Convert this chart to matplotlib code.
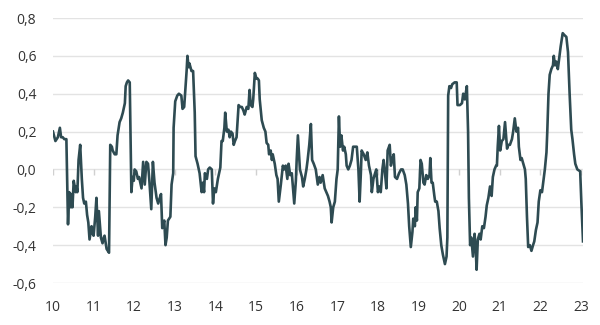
import matplotlib
matplotlib.use("Agg")
import matplotlib.pyplot as plt

plt.rcParams['font.family'] = ['Open Sans', 'DejaVu Sans']

# Observation dates (decimal years) and values of the series
t = [10.00, 10.06, 10.09, 10.12, 10.17, 10.20, 10.24, 10.28, 10.33, 10.37,
     10.40, 10.44, 10.46, 10.48, 10.51, 10.56, 10.58, 10.60, 10.63, 10.67,
     10.71, 10.74, 10.77, 10.81, 10.84, 10.87, 10.90, 10.93, 10.95, 10.98,
     11.00, 11.04, 11.07, 11.09, 11.11, 11.13, 11.16, 11.18, 11.22, 11.25,
     11.27, 11.32, 11.35, 11.38, 11.41, 11.45, 11.47, 11.52, 11.56, 11.59,
     11.64, 11.68, 11.72, 11.74, 11.77, 11.79, 11.82, 11.85, 11.89, 11.93,
     11.96, 11.99, 12.01, 12.05, 12.09, 12.12, 12.18, 12.22, 12.26, 12.30,
     12.34, 12.37, 12.42, 12.46, 12.50, 12.55, 12.59, 12.63, 12.66, 12.69,
     12.74, 12.77, 12.80, 12.83, 12.86, 12.89, 12.92, 12.96, 12.97, 13.01,
     13.06, 13.10, 13.16, 13.19, 13.23, 13.29, 13.31, 13.34, 13.36, 13.41,
     13.45, 13.49, 13.51, 13.56, 13.61, 13.66, 13.69, 13.72, 13.74, 13.79,
     13.82, 13.86, 13.91, 13.94, 13.97, 14.01, 14.06, 14.09, 14.12, 14.15,
     14.18, 14.22, 14.24, 14.28, 14.32, 14.35, 14.38, 14.42, 14.45, 14.48,
     14.52, 14.57, 14.61, 14.65, 14.69, 14.72, 14.77, 14.81, 14.84, 14.87,
     14.91, 14.93, 14.97, 15.01, 15.04, 15.07, 15.09, 15.14, 15.19, 15.23,
     15.26, 15.30, 15.32, 15.36, 15.39, 15.41, 15.46, 15.50, 15.53, 15.56,
     15.61, 15.66, 15.69, 15.73, 15.77, 15.80, 15.84, 15.88, 15.94, 15.98,
     16.00, 16.03, 16.08, 16.13, 16.16, 16.20, 16.24, 16.27, 16.31, 16.35,
     16.38, 16.42, 16.47, 16.52, 16.56, 16.59, 16.64, 16.69, 16.73, 16.77,
     16.81, 16.84, 16.86, 16.90, 16.94, 16.98, 17.01, 17.04, 17.07, 17.10,
     17.14, 17.17, 17.21, 17.23, 17.27, 17.31, 17.35, 17.39, 17.43, 17.48,
     17.52, 17.55, 17.58, 17.60, 17.65, 17.70, 17.74, 17.78, 17.83, 17.85,
     17.89, 17.93, 17.96, 18.00, 18.04, 18.07, 18.11, 18.14, 18.17, 18.21,
     18.24, 18.29, 18.32, 18.35, 18.39, 18.42, 18.47, 18.52, 18.57, 18.61,
     18.66, 18.70, 18.74, 18.77, 18.81, 18.85, 18.87, 18.91, 18.93, 18.96,
     18.98, 19.02, 19.05, 19.08, 19.12, 19.15, 19.19, 19.23, 19.27, 19.29,
     19.32, 19.35, 19.39, 19.41, 19.45, 19.49, 19.52, 19.56, 19.60, 19.65,
     19.69, 19.71, 19.73, 19.76, 19.80, 19.83, 19.89, 19.94, 19.96, 20.02,
     20.07, 20.10, 20.14, 20.19, 20.22, 20.24, 20.27, 20.30, 20.34, 20.38,
     20.41, 20.43, 20.46, 20.50, 20.53, 20.57, 20.61, 20.65, 20.68, 20.72,
     20.76, 20.80, 20.83, 20.87, 20.91, 20.93, 20.95, 20.98, 21.01, 21.05,
     21.09, 21.13, 21.18, 21.21, 21.25, 21.30, 21.33, 21.37, 21.41, 21.45,
     21.47, 21.51, 21.54, 21.58, 21.62, 21.64, 21.67, 21.70, 21.74, 21.78,
     21.82, 21.85, 21.89, 21.93, 21.96, 22.00, 22.04, 22.07, 22.11, 22.15,
     22.17, 22.20, 22.23, 22.27, 22.31, 22.33, 22.36, 22.39, 22.43, 22.47,
     22.50, 22.55, 22.59, 22.64, 22.68, 22.72, 22.76, 22.79, 22.83, 22.86,
     22.91, 22.98, 23.01, 23.05]

v = [0.20, 0.15, 0.16, 0.17, 0.22, 0.17, 0.17, 0.16, 0.16, -0.29,
     -0.12, -0.20, -0.13, -0.20, -0.06, -0.12, -0.09, -0.12, 0.05, 0.13,
     -0.05, -0.15, -0.18, -0.17, -0.24, -0.28, -0.37, -0.33, -0.30, -0.34,
     -0.35, -0.25, -0.15, -0.25, -0.35, -0.22, -0.30, -0.36, -0.39, -0.36,
     -0.35, -0.42, -0.43, -0.44, 0.13, 0.12, 0.10, 0.08, 0.08, 0.18,
     0.25, 0.27, 0.30, 0.32, 0.35, 0.44, 0.46, 0.47, 0.46, -0.12,
     -0.04, -0.06, 0.00, -0.01, -0.05, -0.04, -0.10, 0.04, -0.08, 0.04,
     0.03, -0.05, -0.21, 0.04, -0.07, -0.15, -0.18, -0.15, -0.13, -0.31,
     -0.27, -0.40, -0.36, -0.27, -0.26, -0.25, -0.08, -0.02, 0.22, 0.36,
     0.39, 0.40, 0.39, 0.32, 0.33, 0.52, 0.60, 0.54, 0.56, 0.52,
     0.52, 0.30, 0.07, 0.03, -0.02, -0.12, -0.07, -0.12, -0.02, -0.05,
     0.00, 0.01, 0.00, -0.18, -0.10, -0.12, -0.05, -0.02, 0.01, 0.15,
     0.15, 0.22, 0.30, 0.20, 0.21, 0.17, 0.20, 0.19, 0.13, 0.15,
     0.17, 0.34, 0.33, 0.33, 0.31, 0.29, 0.33, 0.32, 0.42, 0.34,
     0.33, 0.37, 0.51, 0.48, 0.48, 0.47, 0.37, 0.26, 0.22, 0.20,
     0.14, 0.13, 0.08, 0.10, 0.05, 0.08, 0.03, -0.03, -0.05, -0.17,
     -0.08, 0.02, 0.00, 0.02, -0.05, 0.03, -0.03, -0.02, -0.18, -0.06,
     0.05, 0.18, 0.00, -0.04, -0.09, -0.05, 0.00, 0.05, 0.13, 0.24,
     0.05, 0.03, 0.00, -0.08, -0.04, -0.07, -0.03, -0.10, -0.12, -0.14,
     -0.17, -0.20, -0.28, -0.20, -0.17, -0.05, 0.00, 0.28, 0.12, 0.18,
     0.10, 0.12, 0.08, 0.02, 0.00, 0.02, 0.05, 0.12, 0.12, 0.12,
     0.00, -0.17, -0.02, 0.10, 0.08, 0.05, 0.09, 0.02, -0.03, -0.12,
     -0.05, -0.02, 0.00, -0.12, -0.09, -0.12, 0.00, 0.05, -0.01, -0.10,
     0.10, 0.13, 0.02, 0.05, 0.08, -0.04, -0.05, -0.02, 0.00, 0.00,
     -0.03, -0.08, -0.18, -0.30, -0.41, -0.33, -0.26, -0.30, -0.20, -0.27,
     -0.12, -0.10, 0.05, 0.03, -0.07, -0.08, -0.03, -0.05, -0.03, 0.06,
     -0.07, -0.07, -0.14, -0.17, -0.17, -0.22, -0.31, -0.40, -0.45, -0.50,
     -0.46, -0.36, 0.39, 0.44, 0.43, 0.45, 0.46, 0.46, 0.34, 0.34,
     0.35, 0.40, 0.37, 0.44, 0.20, -0.15, -0.40, -0.36, -0.46, -0.34,
     -0.43, -0.53, -0.37, -0.34, -0.37, -0.30, -0.31, -0.25, -0.19, -0.15,
     -0.09, -0.14, -0.04, 0.00, 0.02, 0.02, 0.12, 0.23, 0.10, 0.15,
     0.16, 0.25, 0.11, 0.13, 0.13, 0.16, 0.20, 0.27, 0.20, 0.22,
     0.12, 0.05, 0.06, 0.03, 0.00, -0.05, -0.25, -0.41, -0.40, -0.43,
     -0.40, -0.38, -0.32, -0.28, -0.17, -0.11, -0.12, -0.07, 0.00, 0.09,
     0.20, 0.40, 0.50, 0.53, 0.55, 0.60, 0.55, 0.57, 0.53, 0.60,
     0.65, 0.72, 0.71, 0.70, 0.62, 0.40, 0.21, 0.16, 0.08, 0.03,
     0.00, -0.01, -0.18, -0.38]

x_ticks = list(range(10, 24))
x_labels = [str(y) for y in x_ticks]
y_ticks = [-0.6, -0.4, -0.2, 0.0, 0.2, 0.4, 0.6, 0.8]
y_labels = ["-0,6", "-0,4", "-0,2", "0,0", "0,2", "0,4", "0,6", "0,8"]

line_color = "#2e4b52"
grid_color = "#e3e3e3"
text_color = "#333333"

fig = plt.figure(figsize=(6.0, 3.25), dpi=100)
ax = fig.add_axes([0.0883, 0.1292, 0.8834, 0.8154])

ax.set_xlim(10, 23.05)
ax.set_ylim(-0.6, 0.8)

ax.set_yticks(y_ticks)
ax.set_yticklabels(y_labels)
ax.set_xticks(x_ticks)
ax.set_xticklabels(x_labels)

ax.grid(axis="y", color=grid_color, linewidth=1.0, zorder=0)
ax.set_axisbelow(True)
for s in ax.spines.values():
    s.set_visible(False)

ax.tick_params(axis="both", length=0, labelsize=10, colors=text_color)
ax.tick_params(axis="y", pad=12)
ax.tick_params(axis="x", pad=12)

# small year markers hanging below the zero line
ax.vlines(x_ticks, -0.028, 0, color="#d0d0d0", linewidth=1.0, zorder=1)

ax.plot(t, v, color=line_color, linewidth=1.9, solid_joinstyle="round", zorder=3)

fig.savefig("out.png", dpi=100)
